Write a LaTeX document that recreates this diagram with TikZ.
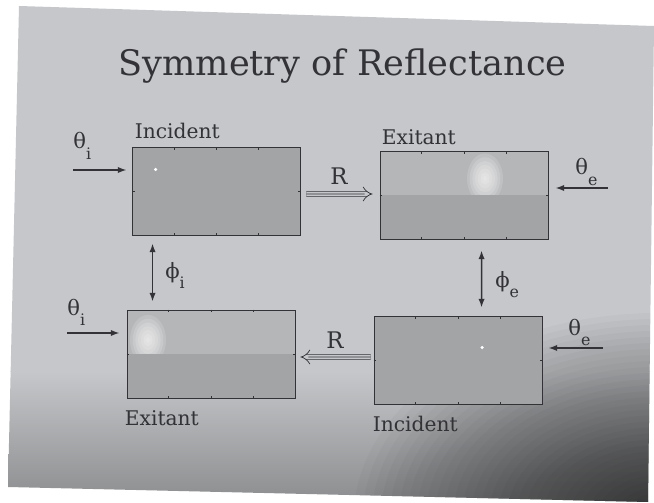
\documentclass[tikz,border=0pt]{standalone}
\usepackage{fontspec}
\setmainfont{DejaVu Serif}
\usetikzlibrary{positioning,arrows.meta,calc}
\definecolor{slidegray}{RGB}{197,199,202}
\definecolor{slidedark}{RGB}{140,141,143}
\definecolor{boxgray}{RGB}{162,164,166}
\definecolor{boxlight}{RGB}{180,182,184}
\definecolor{ink}{RGB}{50,50,55}
\newcommand{\lowsub}[1]{\raisebox{-6pt}{\fontsize{9}{9}\selectfont #1}}

\begin{document}
\begin{tikzpicture}[
        box/.style={draw=ink, line width=0.5pt, fill=boxgray, minimum width=3.36cm,
            minimum height=1.76cm, inner sep=0pt},
        incbox/.style={box, path picture={
            \fill[white] ($(path picture bounding box.north west)+(#1)$) circle (0.035);}},
        exitbox/.style={box, fill=boxlight, path picture={
            \coordinate (glow) at ($(path picture bounding box.north west)+(#1)$);
            \foreach \s in {1.0,0.85,...,0.05}
                \fill[white, opacity=0.15] (glow) ellipse ({0.36*\s} and {0.5*\s});
            \fill[boxgray] (path picture bounding box.west) rectangle (path picture bounding box.south east);}},
        lbl/.style={text=ink, inner sep=0pt, font=\fontsize{11.5}{14}\selectfont},
        sym/.style={text=ink, inner sep=0pt, font=\fontsize{12}{14}\selectfont},
        ray/.style={draw=ink, line width=0.85pt, -{Latex[length=5pt,width=3.6pt]}},
        both/.style={ray, {Latex[length=5pt,width=3.6pt]}-{Latex[length=5pt,width=3.6pt]}},
        triple/.style={draw=ink, line width=0.4pt, double=slidegray, double distance=2.6pt, -{Implies}},
        triplemid/.style={draw=ink, line width=0.4pt}
    ]

    \useasboundingbox (0,0) rectangle (13.08,10.04);

    % photographed slide
    \fill[white] (0,0) rectangle (13.08,10.04);
    \begin{scope}
        \clip (0.38,9.92) -- (13.08,9.52) -- (12.96,0) -- (0.16,0.30) -- cycle;
        \fill[slidegray] (0,2.6) rectangle (13.08,10.04);
        \shade[top color=slidegray, bottom color=slidedark] (0,0) rectangle (13.08,2.61);
        \foreach \r in {0.12,0.24,...,4.2}
            \fill[black, opacity=0.022] (13.2,-0.3) ellipse ({1.5*\r} and {\r});
    \end{scope}

    % title
    \node[text=ink, font=\fontsize{20}{24}\selectfont] (title) at (6.85,8.72) {Symmetry of Reflectance};

    % the four boxes
    \node[incbox={0.46,-0.44}] (tl) at (4.33,6.21) {};
    \node[exitbox={2.10,-0.54}] (tr) at (9.28,6.13) {};
    \node[exitbox={0.42,-0.60}] (bl) at (4.22,2.96) {};
    \node[incbox={2.16,-0.62}] (br) at (9.16,2.83) {};

    % small ticks on the frames
    \foreach \b in {tl,tr,bl,br} {
        \foreach \f in {0.25,0.5,0.75} {
            \draw[ink, line width=0.5pt] ($(\b.north west)!\f!(\b.north east)$) -- ++(0,-0.05);
            \draw[ink, line width=0.5pt] ($(\b.south west)!\f!(\b.south east)$) -- ++(0,0.05);
        }
        \draw[ink, line width=0.5pt] (\b.west) -- ++(0.05,0);
        \draw[ink, line width=0.5pt] (\b.east) -- ++(-0.05,0);
    }

    % box labels
    \node[lbl, anchor=base west] (tllbl) at ([xshift=0.05cm, yshift=0.17cm]tl.north west) {Incident};
    \node[lbl, anchor=base west] (trlbl) at ([xshift=0.04cm, yshift=0.13cm]tr.north west) {Exitant};
    \node[lbl, anchor=base west] (bllbl) at ([xshift=-0.04cm, yshift=-0.54cm]bl.south west) {Exitant};
    \node[lbl, anchor=base west] (brlbl) at ([xshift=-0.02cm, yshift=-0.53cm]br.south west) {Incident};

    % incoming angles
    \coordinate (thtl) at (1.46,6.64);
    \coordinate (thtr) at (12.16,6.28);
    \coordinate (thbl) at (1.34,3.38);
    \coordinate (thbr) at (12.06,3.08);
    \node[sym, anchor=base west] (thtllbl) at (1.46,7.06) {θ\lowsub{i}};
    \node[sym, anchor=base west] (thtrlbl) at (11.50,6.54) {θ\lowsub{e}};
    \node[sym, anchor=base west] (thbllbl) at (1.34,3.74) {θ\lowsub{i}};
    \node[sym, anchor=base west] (thbrlbl) at (11.36,3.34) {θ\lowsub{e}};
    \draw[ray, shorten >=0.11cm] (thtl) -- (thtl -| tl.west);
    \draw[ray, shorten >=0.14cm] (thtr) -- (thtr -| tr.east);
    \draw[ray, shorten >=0.14cm] (thbl) -- (thbl -| bl.west);
    \draw[ray, shorten >=0.12cm] (thbr) -- (thbr -| br.east);

    % azimuth arrows
    \draw[both, shorten <=0.15cm, shorten >=0.16cm] ([xshift=0.41cm]tl.south west) -- ([xshift=0.52cm]bl.north west);
    \node[sym, anchor=base west] (phil) at (3.30,4.48) {ϕ\lowsub{i}};
    \draw[both, shorten <=0.21cm, shorten >=0.17cm] ([xshift=2.04cm]tr.south west) -- ([xshift=2.16cm]br.north west);
    \node[sym, anchor=base west] (phel) at (9.90,4.30) {ϕ\lowsub{e}};

    % reflectance arrows
    \draw[triple, shorten <=0.11cm, shorten >=0.14cm] ([yshift=-0.05cm]tl.east) -- ([yshift=0.03cm]tr.west);
    \draw[triplemid, shorten <=0.11cm, shorten >=0.3cm] ([yshift=-0.05cm]tl.east) -- ([yshift=0.03cm]tr.west);
    \node[text=ink, inner sep=0pt, font=\fontsize{13}{15}\selectfont] (rtop) at (6.78,6.52) {R};
    \draw[triple, shorten <=0.06cm, shorten >=0.10cm] ([yshift=0.07cm]br.west) -- ([yshift=-0.06cm]bl.east);
    \draw[triplemid, shorten <=0.06cm, shorten >=0.26cm] ([yshift=0.07cm]br.west) -- ([yshift=-0.06cm]bl.east);
    \node[text=ink, inner sep=0pt, font=\fontsize{13}{15}\selectfont] (rbot) at (6.70,3.24) {R};

\end{tikzpicture}
\end{document}
